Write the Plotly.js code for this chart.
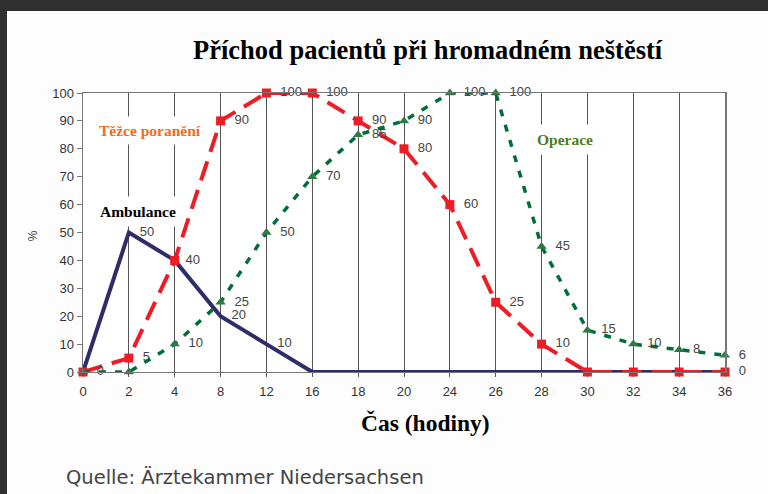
<!DOCTYPE html>
<html>
<head>
<meta charset="utf-8">
<script src="https://cdn.plot.ly/plotly-3.0.1.min.js"></script>
<style>
  html, body { margin: 0; padding: 0; background: #2f2f2f; width: 768px; height: 494px; overflow: hidden; }
  #chart { position: absolute; left: 7px; top: 11px; width: 761px; height: 483px; background: #fdfdfd; }
</style>
</head>
<body>
<div id="chart"></div>
<script>
// ---- data ----
var hours = ['0', '2', '4', '8', '12', '16', '18', '20', '24', '26', '28', '30', '32', '34', '36'];
var ambulance = [0, 50, 40, 20, 10, 0, 0, 0, 0, 0, 0, 0, 0, 0, 0];
var tezcePoraneni = [0, 5, 40, 90, 100, 100, 90, 80, 60, 25, 10, 0, 0, 0, 0];
var operace = [0, 0, 10, 25, 50, 70, 85, 90, 100, 100, 45, 15, 10, 8, 6];
var ambulanceLabels = ['', '50', '40', '20', '10', '', '', '', '', '', '', '', '', '', ''];
var tezceLabels = ['', '5', '', '90', '100', '100', '90', '80', '60', '25', '10', '', '', '', '0'];
var operaceLabels = ['0', '', '10', '25', '50', '70', '85', '90', '100', '100', '45', '15', '10', '8', '6'];
var seriesNames = ['Ambulance', 'Těžce poranění', 'Operace'];

var labelFont = { family: 'Liberation Sans, Arial, sans-serif', size: 13, color: '#444' };
var pad = '\u00a0\u00a0%{text}';

var traces = [
  {
    x: hours, y: ambulance, text: ambulanceLabels, name: seriesNames[0],
    type: 'scatter', mode: 'lines+text', textposition: 'middle right',
    texttemplate: '\u00a0\u00a0\u00a0' + '%{text}',
    textfont: labelFont, cliponaxis: false,
    line: { color: '#2e2c6a', width: 4 }
  },
  {
    x: hours, y: tezcePoraneni, text: tezceLabels, name: seriesNames[1],
    type: 'scatter', mode: 'lines+markers+text', textposition: 'middle right',
    texttemplate: pad,
    textfont: labelFont, cliponaxis: false,
    line: { color: '#ee1d25', width: 4, dash: '20px,10px' },
    marker: { symbol: 'square', size: 9, color: '#ee1d25' }
  },
  {
    x: hours, y: operace, text: operaceLabels, name: seriesNames[2],
    type: 'scatter', mode: 'lines+markers+text', textposition: 'middle right',
    texttemplate: pad,
    textfont: labelFont, cliponaxis: false,
    line: { color: '#006e3a', width: 3.5, dash: '7px,9px' },
    marker: { symbol: 'triangle-up', size: 9, color: '#2e7a45' }
  }
];

var layout = {
  width: 761, height: 483,
  margin: { l: 76, r: 43, t: 82, b: 122 },
  paper_bgcolor: '#fdfdfd', plot_bgcolor: '#ffffff',
  showlegend: false,
  font: { family: 'Liberation Sans, Arial, sans-serif', size: 13, color: '#333' },
  xaxis: {
    type: 'category', range: [0, 14],
    showgrid: true, gridcolor: '#555', gridwidth: 1,
    showline: true, linecolor: '#777', linewidth: 1, mirror: true,
    ticks: 'outside', ticklen: 4, tickcolor: '#555', ticklabelstandoff: 3,
    tickfont: { size: 13, color: '#333' }, zeroline: false
  },
  yaxis: {
    range: [0, 100], dtick: 10,
    showgrid: false,
    showline: true, linecolor: '#777', linewidth: 1.5, mirror: true,
    ticks: 'outside', ticklen: 5, tickcolor: '#777',
    tickfont: { size: 13, color: '#333' }, zeroline: false
  },
  annotations: [
    { text: '<b>Příchod pacientů při hromadném neštěstí</b>', xref: 'paper', yref: 'paper',
      x: 0.537, y: 1.154, xanchor: 'center', yanchor: 'middle', showarrow: false,
      font: { family: 'Liberation Serif, Times New Roman, serif', size: 26.5, color: '#000' } },
    { text: '<b>Čas (hodiny)</b>', xref: 'paper', yref: 'paper',
      x: 0.534, y: -0.183, xanchor: 'center', yanchor: 'middle', showarrow: false,
      font: { family: 'Liberation Serif, Times New Roman, serif', size: 23.5, color: '#000' } },
    { text: '%', xref: 'paper', yref: 'paper', x: -0.078, y: 0.49, textangle: -90,
      xanchor: 'center', yanchor: 'middle', showarrow: false,
      font: { family: 'Liberation Sans, Arial, sans-serif', size: 12, color: '#444' } },
    { text: 'Quelle: Ärztekammer Niedersachsen', xref: 'paper', yref: 'paper',
      x: -0.03, y: -0.378, xanchor: 'left', yanchor: 'middle', showarrow: false,
      font: { family: 'DejaVu Sans, sans-serif', size: 19.5, color: '#444' } },
    { text: '<b>Těžce poranění</b>', xref: 'paper', yref: 'paper',
      x: 0.016, y: 0.866, xanchor: 'left', yanchor: 'middle', showarrow: false,
      bgcolor: '#ffffff', borderpad: 5,
      font: { family: 'Liberation Serif, Times New Roman, serif', size: 15.5, color: '#f26a1b' } },
    { text: '<b>Ambulance</b>', xref: 'paper', yref: 'paper',
      x: 0.015, y: 0.577, xanchor: 'left', yanchor: 'middle', showarrow: false,
      bgcolor: '#ffffff', borderpad: 6,
      font: { family: 'Liberation Serif, Times New Roman, serif', size: 15.5, color: '#000' } },
    { text: '<b>Operace</b>', xref: 'paper', yref: 'paper',
      x: 0.751, y: 0.835, xanchor: 'center', yanchor: 'middle', showarrow: false,
      bgcolor: '#ffffff', borderpad: 6,
      font: { family: 'Liberation Serif, Times New Roman, serif', size: 15.5, color: '#4f7d1c' } }
  ]
};

Plotly.newPlot('chart', traces, layout, { displayModeBar: false, staticPlot: true });
</script>
</body>
</html>
